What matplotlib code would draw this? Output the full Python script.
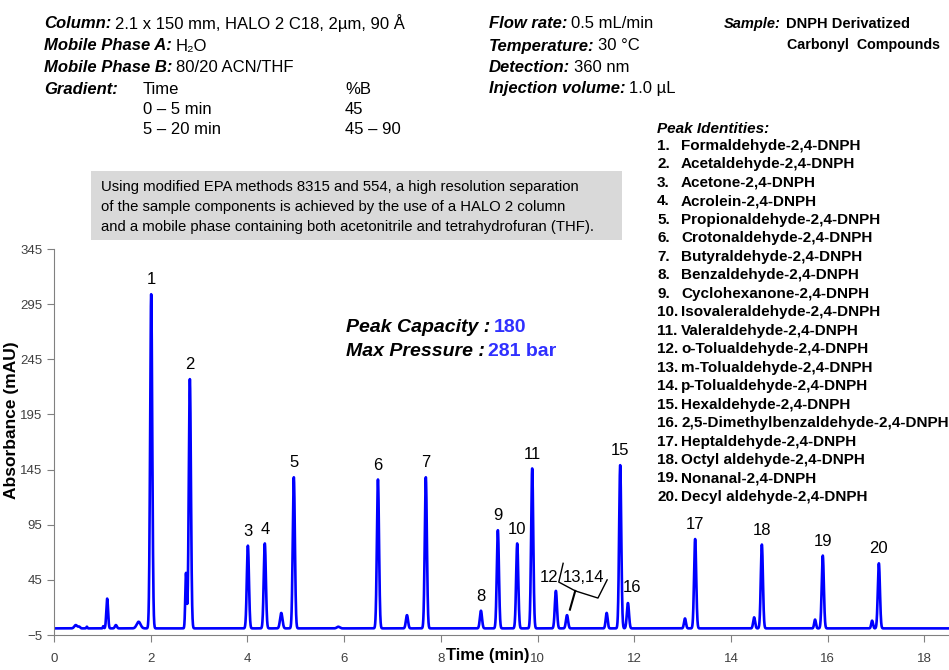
import numpy as np
import matplotlib.pyplot as plt

plt.rcParams["font.family"] = ["Liberation Sans", "DejaVu Sans"]

picos_tiempo = [2.01, 2.81, 4.01, 4.36, 4.96, 6.70, 7.69, 8.83, 9.18, 9.58,
                9.89, 10.38, 10.61, 11.71, 11.87, 13.26, 14.64, 15.90, 17.06]
picos_altura = [303, 226, 75, 77, 137, 135, 137, 16, 89, 77,
                145, 34, 12, 148, 23, 81, 76, 66, 59]
picos_etiqueta = ["1", "2", "3", "4", "5", "6", "7", "8", "9", "10",
                  "11", "12", "13,14", "15", "16", "17", "18", "19", "20"]

# Picos menores sin numero (impurezas)
menores_tiempo = [0.45, 0.52, 0.68, 1.02, 1.10, 1.28, 1.75, 2.73, 4.70, 5.88,
                  7.30, 11.43, 13.05, 14.48, 15.74, 16.92]
menores_altura = [3, 1.5, 1.5, 2, 27, 3, 6, 50, 14, 1.5,
                  12, 14, 9, 10, 8, 7]
menores_ancho = [0.03, 0.02, 0.01, 0.01, 0.018, 0.02, 0.04, 0.015, 0.025, 0.03,
                 0.022, 0.02, 0.02, 0.02, 0.018, 0.018]

linea_base = 1.0
y_ticks = [-5, 45, 95, 145, 195, 245, 295, 345]
x_ticks = [0, 2, 4, 6, 8, 10, 12, 14, 16, 18]

identidades = [
    "Formaldehyde-2,4-DNPH", "Acetaldehyde-2,4-DNPH", "Acetone-2,4-DNPH",
    "Acrolein-2,4-DNPH", "Propionaldehyde-2,4-DNPH", "Crotonaldehyde-2,4-DNPH",
    "Butyraldehyde-2,4-DNPH", "Benzaldehyde-2,4-DNPH", "Cyclohexanone-2,4-DNPH",
    "Isovaleraldehyde-2,4-DNPH", "Valeraldehyde-2,4-DNPH", "o-Tolualdehyde-2,4-DNPH",
    "m-Tolualdehyde-2,4-DNPH", "p-Tolualdehyde-2,4-DNPH", "Hexaldehyde-2,4-DNPH",
    "2,5-Dimethylbenzaldehyde-2,4-DNPH", "Heptaldehyde-2,4-DNPH",
    "Octyl aldehyde-2,4-DNPH", "Nonanal-2,4-DNPH", "Decyl aldehyde-2,4-DNPH",
]

# Se construye la traza como suma de picos gaussianos
t = np.arange(0, 18.5, 0.002)
senal = np.full_like(t, linea_base)
for tr, h in zip(picos_tiempo, picos_altura):
    senal += h * np.exp(-0.5 * ((t - tr) / 0.022) ** 2)
for tr, h, s in zip(menores_tiempo, menores_altura, menores_ancho):
    senal += h * np.exp(-0.5 * ((t - tr) / s) ** 2)

W, H = 949, 670
fig = plt.figure(figsize=(W / 100, H / 100), dpi=100)
ax = fig.add_axes([54 / W, 1 - 635 / H, (948.5 - 54) / W, (635 - 249) / H])
ax.plot(t, senal, color="#0000ff", lw=1.9)
ax.set_xlim(0, 18.5)
ax.set_ylim(-5, 345)
ax.set_yticks(y_ticks)
ax.set_xticks(x_ticks)
for lado in ["top", "right"]:
    ax.spines[lado].set_visible(False)
for lado in ["left", "bottom"]:
    ax.spines[lado].set_color("#808080")
ax.tick_params(colors="#808080", labelcolor="#404040", labelsize=9.5, length=5)
ax.tick_params(axis="x", pad=8)

# Etiquetas de los picos
desplaz = {"12": (-5, 4), "13,14": (12, 22), "16": (3, 6)}
for tr, h, et in zip(picos_tiempo, picos_altura, picos_etiqueta):
    dx, dy = desplaz.get(et, (0, 5))
    ax.annotate(et, (tr, h + linea_base), xytext=(dx, dy), textcoords="offset points",
                ha="center", va="bottom", fontsize=12)

# Llave que agrupa los picos 13 y 14
llave_x = [10.53, 10.44, 10.78, 11.25, 11.44]
llave_y = [60, 43, 35, 28.5, 45]
ax.plot(llave_x, llave_y, color="black", lw=1)
ax.plot([10.78, 10.67], [35, 18], color="black", lw=1.5)

ax.text(8.98, -24, "Time (min)", fontsize=12, fontweight="bold", ha="center",
        va="center", clip_on=False)
fig.text(12 / W, 1 - 420 / H, "Absorbance (mAU)", rotation=90, fontsize=12.5,
         fontweight="bold", ha="center", va="center")


def par(x, y, etiqueta, valor, size=12, color="black", peso="normal"):
    lab = fig.text(x / W, 1 - y / H, etiqueta, fontsize=size, fontweight="bold",
                   fontstyle="italic", va="center")
    ax.annotate(valor, xy=(1, 0), xycoords=lab, xytext=(2.5, 0),
                textcoords="offset points", fontsize=size, va="bottom",
                color=color, fontweight=peso, annotation_clip=False)


par(44, 24, "Column:", "2.1 x 150 mm, HALO 2 C18, 2µm, 90 Å")
par(44, 46, "Mobile Phase A:", "H₂O")
par(44, 68, "Mobile Phase B:", "80/20 ACN/THF")
fig.text(44 / W, 1 - 89 / H, "Gradient:", fontsize=12, fontweight="bold",
         fontstyle="italic", va="center")
for y, a, b in [(89, "Time", "%B"), (109, "0 – 5 min", "45"), (129, "5 – 20 min", "45 – 90")]:
    fig.text(143 / W, 1 - y / H, a, fontsize=12, va="center")
    fig.text(345 / W, 1 - y / H, b, fontsize=12, va="center")

par(489, 24, "Flow rate:", "0.5 mL/min")
par(489, 46, "Temperature:", "30 °C")
par(489, 68, "Detection:", "360 nm")
par(489, 89, "Injection volume:", "1.0 µL")

fig.text(724 / W, 1 - 24 / H, "Sample:", fontsize=10.5, fontweight="bold",
         fontstyle="italic", va="center")
fig.text(786 / W, 1 - 24 / H, "DNPH Derivatized", fontsize=10.5, fontweight="bold",
         va="center")
fig.text(787 / W, 1 - 45 / H, "Carbonyl  Compounds", fontsize=10.3, fontweight="bold",
         va="center")

fig.text(657 / W, 1 - 129 / H, "Peak Identities:", fontsize=11, fontweight="bold",
         fontstyle="italic", va="center")
for i, nombre in enumerate(identidades):
    y = 146 + i * 18.47
    fig.text(657 / W, 1 - y / H, f"{i + 1}.", fontsize=11, fontweight="bold", va="center")
    fig.text(681 / W, 1 - y / H, nombre, fontsize=11, fontweight="bold", va="center")

# Recuadro gris con la descripcion
fig.patches.append(plt.Rectangle((91 / W, 1 - 240 / H), (622 - 91) / W, 69 / H,
                                 transform=fig.transFigure, facecolor="#d9d9d9",
                                 edgecolor="none"))
for y, linea in [(187, "Using modified EPA methods 8315 and 554, a high resolution separation"),
                 (207, "of the sample components is achieved by the use of a HALO 2 column"),
                 (227, "and a mobile phase containing both acetonitrile and tetrahydrofuran (THF).")]:
    fig.text(101 / W, 1 - y / H, linea, fontsize=10.7, va="center")

par(346, 327, "Peak Capacity :", "180", size=14, color="#3030ff", peso="bold")
par(346, 351, "Max Pressure :", "281 bar", size=14, color="#3030ff", peso="bold")

fig.savefig("out.png", dpi=100)
